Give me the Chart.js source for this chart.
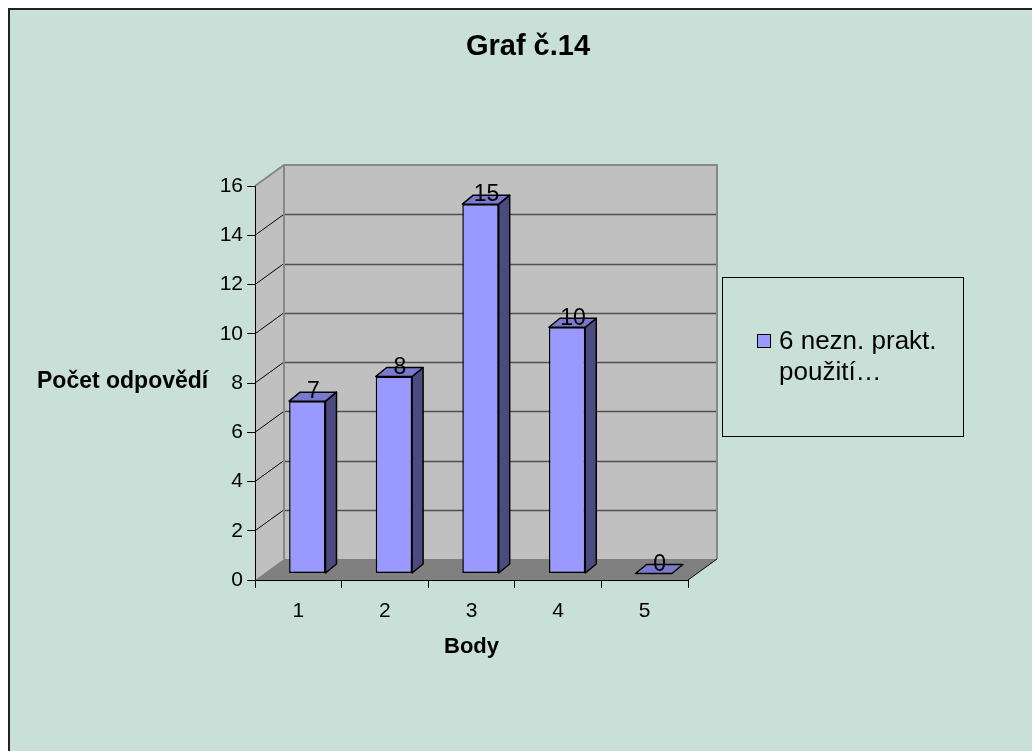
<!DOCTYPE html>
<html>
<head>
<meta charset="utf-8">
<script src="https://cdn.jsdelivr.net/npm/chart.js@4.4.1/dist/chart.umd.min.js"></script>
<style>
  html, body { margin: 0; padding: 0; background: #ffffff; overflow: hidden; }
  #frame { position: absolute; left: 8px; top: 8px; width: 1100px; height: 800px;
           background: #c8e0d8; border-left: 2px solid #222; border-top: 2px solid #222; box-sizing: border-box; }
  #c { position: absolute; left: 0; top: 0; }
</style>
</head>
<body>
<div id="frame"></div>
<canvas id="c" width="1032" height="751"></canvas>
<script>
// ---- data ----
const chartTitle = 'Graf č.14';
const categories = ['1', '2', '3', '4', '5'];
const seriesName = '6 nezn. prakt. použití…';
const seriesValues = [7, 8, 15, 10, 0];
const yTickValues = [0, 2, 4, 6, 8, 10, 12, 14, 16];
const xAxisTitle = 'Body';
const yAxisTitle = 'Počet odpovědí';

// ---- style ----
const FONT = "'Liberation Sans', Arial, sans-serif";
const DX = 29, DY = -21;          // wall depth
const BSX = 9, BSY = -6.5;        // bar offset into depth
const BDX = 11, BDY = -9;         // bar depth
const FRONT = '#9999ff', SIDE = '#4b4b80', TOP = '#7a7acc';

Chart.defaults.font.family = FONT;
Chart.defaults.color = '#000';

const walls3d = {
  id: 'walls3d',
  beforeDraw(chart) {
    const {ctx, chartArea: a, scales: {y}} = chart;
    const L = a.left, R = a.right, T = a.top, B = a.bottom;
    ctx.save();
    ctx.fillStyle = '#c0c0c0';
    ctx.fillRect(L + DX, T + DY, R - L, B - T);
    ctx.beginPath();
    ctx.moveTo(L, T); ctx.lineTo(L + DX, T + DY); ctx.lineTo(L + DX, B + DY); ctx.lineTo(L, B);
    ctx.closePath(); ctx.fill();
    ctx.fillStyle = '#808080';
    ctx.beginPath();
    ctx.moveTo(L, B); ctx.lineTo(L + DX, B + DY); ctx.lineTo(R + DX, B + DY); ctx.lineTo(R, B);
    ctx.closePath(); ctx.fill();
    const vals = yTickValues.slice(1, -1);
    ctx.lineWidth = 1.5;
    ctx.strokeStyle = '#505050';
    vals.forEach(v => {
      const py = Math.round(y.getPixelForValue(v) + DY) + 0.5;
      ctx.beginPath(); ctx.moveTo(L + DX, py); ctx.lineTo(R + DX, py); ctx.stroke();
    });
    ctx.lineWidth = 1;
    ctx.strokeStyle = '#000';
    vals.forEach(v => {
      const py = y.getPixelForValue(v);
      ctx.beginPath(); ctx.moveTo(L, py); ctx.lineTo(L + DX, py + DY); ctx.stroke();
    });
    ctx.strokeStyle = '#888888';
    ctx.lineWidth = 2;
    ctx.beginPath();
    ctx.moveTo(L, T); ctx.lineTo(L + DX, T + DY); ctx.lineTo(R + DX, T + DY); ctx.lineTo(R + DX, B + DY);
    ctx.moveTo(L + DX, T + DY); ctx.lineTo(L + DX, B + DY);
    ctx.stroke();
    ctx.strokeStyle = '#000';
    ctx.lineWidth = 1;
    ctx.beginPath(); ctx.moveTo(R, B); ctx.lineTo(R + DX, B + DY); ctx.stroke();
    ctx.restore();
  },
  beforeDatasetDraw(chart) {
    chart.ctx.save();
    chart.ctx.translate(BSX, BSY);
  },
  afterDatasetDraw(chart) {
    chart.ctx.restore();
  },
  afterDatasetsDraw(chart) {
    const {ctx} = chart;
    const meta = chart.getDatasetMeta(0);
    ctx.save();
    ctx.lineJoin = 'round';
    meta.data.forEach((bar, i) => {
      const p = bar.getProps(['x', 'y', 'base', 'width'], true);
      const l = p.x - p.width / 2 + BSX, r = p.x + p.width / 2 + BSX;
      const t = p.y + BSY, b = p.base + BSY;
      ctx.lineWidth = 1.5;
      ctx.strokeStyle = '#000';
      if (b - t > 0.5) {
        ctx.fillStyle = SIDE;
        ctx.beginPath();
        ctx.moveTo(r, t); ctx.lineTo(r + BDX, t + BDY); ctx.lineTo(r + BDX, b + BDY); ctx.lineTo(r, b);
        ctx.closePath(); ctx.fill(); ctx.stroke();
      }
      ctx.fillStyle = TOP;
      ctx.beginPath();
      ctx.moveTo(l, t); ctx.lineTo(l + BDX, t + BDY); ctx.lineTo(r + BDX, t + BDY); ctx.lineTo(r, t);
      ctx.closePath(); ctx.fill(); ctx.stroke();
      ctx.fillStyle = '#000';
      ctx.font = '23px ' + FONT;
      ctx.textAlign = 'center';
      ctx.textBaseline = 'middle';
      ctx.fillText(String(seriesValues[i]), (l + r) / 2 + 6, t - 9);
    });
    ctx.restore();
  },
  afterDraw(chart) {
    const {ctx} = chart;
    ctx.save();
    ctx.fillStyle = '#000';
    ctx.font = 'bold 23px ' + FONT;
    ctx.textAlign = 'left';
    ctx.textBaseline = 'middle';
    ctx.fillText(yAxisTitle, 37, 382);
    ctx.strokeStyle = '#000';
    ctx.lineWidth = 1;
    ctx.strokeRect(722.5, 277.5, 241, 159);
    ctx.fillStyle = FRONT;
    ctx.fillRect(757, 334, 13, 13);
    ctx.strokeRect(757.5, 334.5, 13, 13);
    ctx.fillStyle = '#000';
    ctx.font = '26px ' + FONT;
    const words = seriesName.split(' ');
    const lines = [];
    let cur = '';
    words.forEach(w => {
      const test = cur ? cur + ' ' + w : w;
      if (ctx.measureText(test).width > 175 && cur) { lines.push(cur); cur = w; } else cur = test;
    });
    if (cur) lines.push(cur);
    lines.forEach((ln, k) => ctx.fillText(ln, 779, 342 + k * 31));
    ctx.restore();
  }
};

new Chart(document.getElementById('c'), {
  type: 'bar',
  data: {
    labels: categories,
    datasets: [{
      label: seriesName,
      data: seriesValues,
      backgroundColor: FRONT,
      borderColor: '#000',
      borderWidth: 1.5,
      borderSkipped: false,
      barPercentage: 0.42,
      categoryPercentage: 1.0
    }]
  },
  options: {
    responsive: false,
    animation: false,
    events: [],
    layout: { padding: { left: 24, right: 0, top: 0, bottom: 0 } },
    plugins: {
      legend: { display: false },
      tooltip: { enabled: false },
      title: {
        display: true,
        text: chartTitle,
        font: { size: 29, weight: 'bold' },
        color: '#000',
        padding: { top: 29.6, bottom: 121.6 }
      }
    },
    scales: {
      x: {
        grid: { offset: true, drawOnChartArea: false, drawTicks: true, tickLength: 8, color: '#000' },
        border: { display: true, color: '#000', width: 1 },
        ticks: { font: { size: 21 }, color: '#000', padding: 11 },
        title: { display: true, text: xAxisTitle, font: { size: 22, weight: 'bold' }, color: '#000', padding: { top: 0, bottom: 91 } },
        afterFit(s) { s.height = 171; }
      },
      y: {
        min: yTickValues[0],
        max: yTickValues[yTickValues.length - 1],
        afterBuildTicks(s) { s.ticks = yTickValues.map(v => ({ value: v })); },
        grid: { drawOnChartArea: false, drawTicks: true, tickLength: 8, color: '#000' },
        border: { display: true, color: '#000', width: 1 },
        ticks: { font: { size: 21 }, color: '#000', padding: 4 },
        afterFit(s) { s.width = 231; }
      },
      y2: {
        type: 'linear',
        position: 'right',
        display: true,
        grid: { display: false, drawTicks: false },
        border: { display: false },
        ticks: { display: false },
        afterFit(s) { s.width = 344; }
      }
    }
  },
  plugins: [walls3d]
});
</script>
</body>
</html>
